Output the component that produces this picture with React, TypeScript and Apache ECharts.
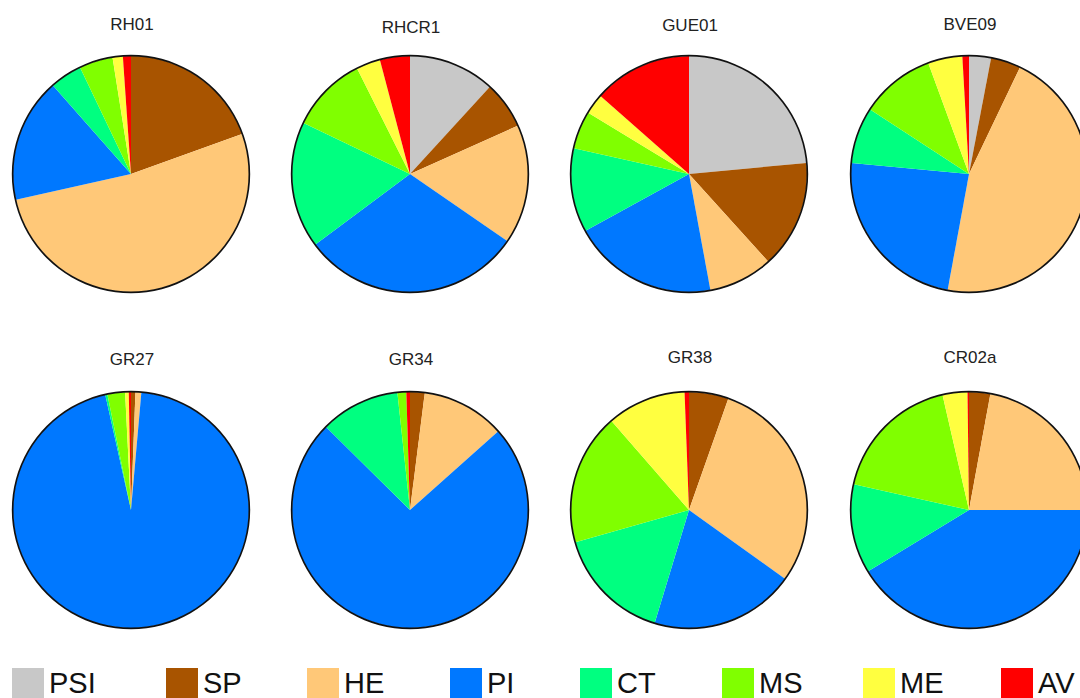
import React, { useEffect, useRef } from "react";
import * as echarts from "echarts";

const categories = ["PSI", "SP", "HE", "PI", "CT", "MS", "ME", "AV"];
const colors = ["#C8C8C8", "#A85400", "#FFC878", "#0078FF", "#00FF80", "#80FF00", "#FFFF40", "#FF0000"];

const sites = ["RH01", "RHCR1", "GUE01", "BVE09", "GR27", "GR34", "GR38", "CR02a"];
const RH01 = [0, 19.5, 52.0, 17.0, 4.4, 4.6, 1.4, 1.1];
const RHCR1 = [11.8, 6.5, 16.3, 30.2, 17.3, 10.5, 3.3, 4.1];
const GUE01 = [23.5, 14.8, 8.8, 19.9, 11.5, 5.2, 2.8, 13.5];
const BVE09 = [3.0, 4.1, 45.8, 23.6, 7.7, 10.2, 4.7, 0.9];
const GR27 = [0, 0.6, 0.8, 95.1, 0.3, 2.4, 0.5, 0.3];
const GR34 = [0, 2.0, 11.4, 74.0, 10.9, 1.2, 0, 0.5];
const GR38 = [0, 5.4, 29.5, 19.8, 15.9, 18.0, 10.8, 0.6];
const CR02a = [0, 2.9, 22.1, 41.3, 12.2, 17.9, 3.4, 0.2];

const siteValues = [RH01, RHCR1, GUE01, BVE09, GR27, GR34, GR38, CR02a];

// layout (not data)
const colX = [131, 410, 689, 969];
const rowY = [174, 510];
const titleTop = [11, 14, 12, 11, 346, 346, 344, 344];
const R = 118;
const legendX = [12, 166, 307, 450, 580, 722, 863, 1001];

export default function App() {
  const ref = useRef<HTMLDivElement>(null);
  useEffect(() => {
    if (!ref.current) return;
    const chart = echarts.init(ref.current, null, { renderer: "svg" });
    const series: any[] = [];
    const titles: any[] = [];
    sites.forEach((site, i) => {
      const cx = colX[i % 4];
      const cy = rowY[Math.floor(i / 4)];
      titles.push({
        text: site,
        left: cx - 4,
        top: titleTop[i],
        textAlign: "center",
        textStyle: { fontFamily: "'Liberation Sans', Arial, sans-serif", fontSize: 17, fontWeight: "normal", color: "#222" },
      });
      series.push({
        type: "pie",
        name: site,
        center: [cx, cy],
        radius: [0, R],
        startAngle: 90,
        clockwise: true,
        silent: true,
        label: { show: false },
        labelLine: { show: false },
        emphasis: { disabled: true },
        itemStyle: { borderWidth: 0 },
        data: categories.map((c, k) => ({ name: c, value: siteValues[i][k], itemStyle: { color: colors[k] } })),
      });
      series.push({
        type: "pie",
        name: site + "-outline",
        center: [cx, cy],
        radius: [R - 0.5, R + 1.2],
        silent: true,
        label: { show: false },
        labelLine: { show: false },
        emphasis: { disabled: true },
        itemStyle: { color: "#111", borderWidth: 0 },
        data: [{ name: "outline", value: 1 }],
      });
    });
    const legends = categories.map((c, k) => ({
      data: [c],
      left: legendX[k],
      top: 668,
      padding: 0,
      icon: "rect",
      itemWidth: 32,
      itemHeight: 30,
      selectedMode: false,
      textStyle: {
        fontFamily: "'Liberation Sans', Arial, sans-serif",
        fontSize: 29,
        color: "#111",
        padding: [2, 0, 0, 0],
      },
    }));
    chart.setOption({
      animation: false,
      backgroundColor: "#ffffff",
      title: titles,
      legend: legends,
      series,
    });
    return () => chart.dispose();
  }, []);
  return (
    <div
      ref={ref}
      style={{ position: "fixed", left: 0, top: 0, width: 1080, height: 698, overflow: "hidden" }}
    />
  );
}
